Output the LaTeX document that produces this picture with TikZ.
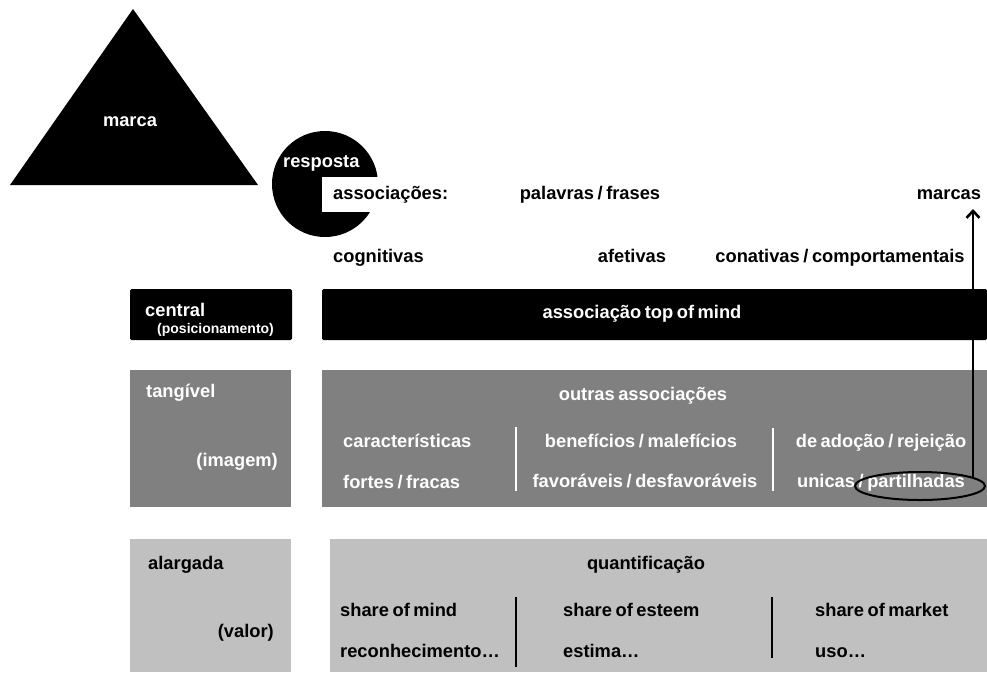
\documentclass[tikz,border=0pt]{standalone}
\usepackage{fontspec}
\setmainfont{Liberation Sans}[WordSpace=0.7]
\usetikzlibrary{arrows.meta,shapes.geometric}
\definecolor{midgray}{HTML}{808080}
\definecolor{lightgray}{HTML}{C0C0C0}
\tikzset{
  lbl/.style={inner sep=0pt,font=\fontsize{18.3}{21}\selectfont\bfseries,text height=13pt,text depth=4pt},
  small/.style={inner sep=0pt,font=\fontsize{14}{16}\selectfont\bfseries,text height=10pt,text depth=3pt},
  wlbl/.style={lbl,text=white},
  darkbox/.style={fill=black,rounded corners=1.5pt},
  midbox/.style={fill=midgray},
  lightbox/.style={fill=lightgray},
  wsep/.style={draw=white,line width=2.5pt},
  bsep/.style={draw=black,line width=2.5pt},
  conn/.style={line width=2.2pt,-{Straight Barb[length=7pt,width=13pt,line width=2.6pt]}}
}
\begin{document}
\begin{tikzpicture}[x=1pt,y=-1pt]
\useasboundingbox (0,0) rectangle (987,673);
% triangle and circle
\fill[black] (10,185) -- (133,9) -- (258,185) -- cycle;
\node[wlbl] (marca) at (130,122) {marca};
\fill[black] (325,184) circle (53);
\fill[white] (322,177) rectangle (400,212);
\node[wlbl,anchor=west] (resposta) at (283,163) {resposta};
% top texts
\node[lbl,anchor=west] (assoc) at (333,195) {associações:};
\node[lbl] (palavras) at (590,195) {palavras / frases};
\node[lbl] (marcas) at (949,195) {marcas};
\node[lbl,anchor=west] (cogn) at (333,258) {cognitivas};
\node[lbl] (afet) at (632,258) {afetivas};
\node[lbl] (conat) at (840,258) {conativas / comportamentais};
% central row
\fill[darkbox] (130,289) rectangle (292,340);
\fill[darkbox] (322,289) rectangle (987,340);
\node[wlbl,anchor=west] (central) at (145,312) {central};
\node[small,text=white,anchor=west] (posic) at (157,330) {(posicionamento)};
\node[wlbl] (topmind) at (642,314) {associação top of mind};
% tangible row
\fill[midbox] (130,370) rectangle (291,507);
\fill[midbox] (322,370) rectangle (987,507);
\node[wlbl,anchor=west] (tang) at (146,393) {tangível};
\node[wlbl,anchor=east] (imagem) at (278,462) {(imagem)};
\node[wlbl] (outras) at (643,396) {outras associações};
\node[wlbl,anchor=west] (caract) at (343,443) {características};
\node[wlbl,anchor=west] (fortes) at (343,484) {fortes / fracas};
\node[wlbl] (benef) at (641,443) {benefícios / malefícios};
\node[wlbl] (favor) at (645,483) {favoráveis / desfavoráveis};
\node[wlbl] (adocao) at (881,443) {de adoção / rejeição};
\node[wlbl] (unicas) at (881,483) {unicas / partilhadas};
\draw[wsep] (516,427) -- (516,491);
\draw[wsep] (773,428) -- (773,491);
\node[draw=black,line width=2pt,ellipse,minimum width=130pt,minimum height=28pt,inner sep=0pt] (ell) at (920,486) {};
\coordinate (arrfoot) at (973,478);
\coordinate (arrtip) at (973,209);
\draw[conn] (arrfoot) -- (arrtip);
% extended row
\fill[lightbox] (130,539) rectangle (291,672);
\fill[lightbox] (330,539) rectangle (987,672);
\node[lbl,anchor=west] (alarg) at (148,565) {alargada};
\node[lbl,anchor=east] (valor) at (274,633) {(valor)};
\node[lbl] (quant) at (646,565) {quantificação};
\node[lbl,anchor=west] (smind) at (340,612) {share of mind};
\node[lbl,anchor=west] (recon) at (340,653) {reconhecimento…};
\node[lbl,anchor=west] (sesteem) at (563,612) {share of esteem};
\node[lbl,anchor=west] (estima) at (563,653) {estima…};
\node[lbl,anchor=west] (smarket) at (815,612) {share of market};
\node[lbl,anchor=west] (uso) at (815,653) {uso…};
\draw[bsep] (516,597) -- (516,667);
\draw[bsep] (772,597) -- (772,658);
\end{tikzpicture}
\end{document}
